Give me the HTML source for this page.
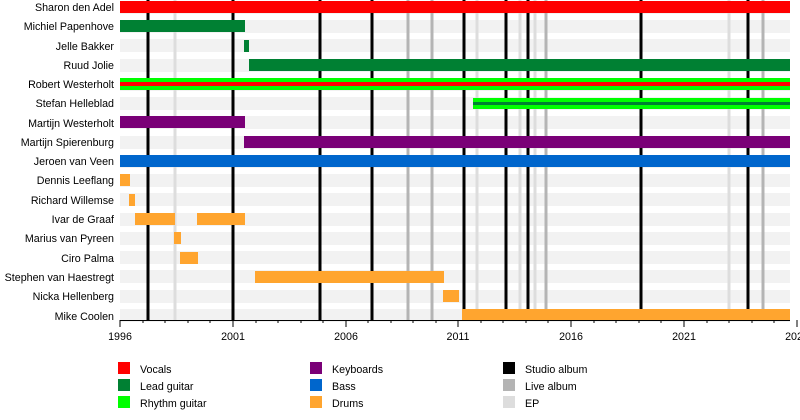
<!DOCTYPE html>
<html><head><meta charset="utf-8"><style>body{margin:0;background:#fff}svg{display:block}text{font-family:"Liberation Sans",sans-serif;font-size:10.7px;fill:#000}</style></head><body>
<svg width="800" height="420" xmlns="http://www.w3.org/2000/svg">
<g fill="#f2f2f2">
<rect x="120" y="1" width="670" height="13"/><rect x="120" y="20" width="670" height="13"/><rect x="120" y="39" width="670" height="13"/><rect x="120" y="59" width="670" height="13"/><rect x="120" y="78" width="670" height="13"/><rect x="120" y="97" width="670" height="13"/><rect x="120" y="116" width="670" height="13"/><rect x="120" y="136" width="670" height="13"/><rect x="120" y="155" width="670" height="13"/><rect x="120" y="174" width="670" height="13"/><rect x="120" y="193" width="670" height="13"/><rect x="120" y="213" width="670" height="13"/><rect x="120" y="232" width="670" height="13"/><rect x="120" y="251" width="670" height="13"/><rect x="120" y="270" width="670" height="13"/><rect x="120" y="290" width="670" height="13"/><rect x="120" y="309" width="670" height="13"/>
</g>
<g stroke="#dddddd" stroke-width="3"><line x1="175" y1="0" x2="175" y2="320"/><line x1="477" y1="0" x2="477" y2="320"/><line x1="520" y1="0" x2="520" y2="320"/><line x1="535" y1="0" x2="535" y2="320"/><line x1="729" y1="0" x2="729" y2="320"/></g>
<g stroke="#b4b4b4" stroke-width="3"><line x1="408" y1="0" x2="408" y2="320"/><line x1="432" y1="0" x2="432" y2="320"/><line x1="546" y1="0" x2="546" y2="320"/><line x1="763" y1="0" x2="763" y2="320"/></g>
<g stroke="#000" stroke-width="3"><line x1="148" y1="0" x2="148" y2="320"/><line x1="233" y1="0" x2="233" y2="320"/><line x1="320" y1="0" x2="320" y2="320"/><line x1="372" y1="0" x2="372" y2="320"/><line x1="464" y1="0" x2="464" y2="320"/><line x1="506" y1="0" x2="506" y2="320"/><line x1="528" y1="0" x2="528" y2="320"/><line x1="641" y1="0" x2="641" y2="320"/><line x1="748" y1="0" x2="748" y2="320"/></g>
<rect x="120" y="1" width="670" height="12" fill="#ff0000"/>
<rect x="120" y="20" width="125" height="12" fill="#008033"/>
<rect x="244" y="40" width="5" height="12" fill="#008033"/>
<rect x="249" y="59" width="541" height="12" fill="#008033"/>
<rect x="120" y="78" width="670" height="12" fill="#00ff00"/><rect x="120" y="82" width="670" height="4" fill="#ff0000"/>
<rect x="473" y="98" width="317" height="11" fill="#00ff00"/><rect x="473" y="102" width="317" height="3" fill="#008033"/>
<rect x="120" y="116" width="125" height="12" fill="#7a0077"/>
<rect x="244" y="136" width="546" height="12" fill="#7a0077"/>
<rect x="120" y="155" width="670" height="12" fill="#0066cc"/>
<g fill="#ffa52f"><rect x="120" y="174" width="10" height="12"/><rect x="129" y="194" width="6" height="12"/><rect x="135" y="213" width="40" height="12"/><rect x="197" y="213" width="48" height="12"/><rect x="174" y="232" width="7" height="12"/><rect x="180" y="252" width="18" height="12"/><rect x="255" y="271" width="189" height="12"/><rect x="443" y="290" width="16" height="12"/><rect x="462" y="309" width="328" height="12"/></g>
<g text-anchor="end"><text x="114" y="11">Sharon den Adel</text><text x="114" y="30">Michiel Papenhove</text><text x="114" y="50">Jelle Bakker</text><text x="114" y="69">Ruud Jolie</text><text x="114" y="88">Robert Westerholt</text><text x="114" y="107">Stefan Helleblad</text><text x="114" y="127">Martijn Westerholt</text><text x="114" y="146">Martijn Spierenburg</text><text x="114" y="165">Jeroen van Veen</text><text x="114" y="184">Dennis Leeflang</text><text x="114" y="204">Richard Willemse</text><text x="114" y="223">Ivar de Graaf</text><text x="114" y="242">Marius van Pyreen</text><text x="114" y="262">Ciro Palma</text><text x="114" y="281">Stephen van Haestregt</text><text x="114" y="300">Nicka Hellenberg</text><text x="114" y="320">Mike Coolen</text></g>
<line x1="120" y1="320.5" x2="790" y2="320.5" stroke="#000"/>
<g stroke="#000"><path d="M120 320v7M233 320v7M346 320v7M458 320v7M571 320v7M684 320v7M797 320v7"/><path d="M143 320v3M165 320v3M188 320v3M210 320v3M256 320v3M278 320v3M301 320v3M323 320v3M368 320v3M391 320v3M413 320v3M436 320v3M481 320v3M503 320v3M526 320v3M548 320v3M594 320v3M616 320v3M639 320v3M661 320v3M707 320v3M729 320v3M752 320v3M774 320v3"/></g>
<g text-anchor="middle"><text x="120" y="340">1996</text><text x="233" y="340">2001</text><text x="346" y="340">2006</text><text x="458" y="340">2011</text><text x="571" y="340">2016</text><text x="684" y="340">2021</text><text x="797" y="340">2026</text></g>
<rect x="118" y="362" width="12" height="12" fill="#ff0000"/><text x="140" y="373">Vocals</text>
<rect x="118" y="379" width="12" height="12" fill="#008033"/><text x="140" y="390">Lead guitar</text>
<rect x="118" y="396" width="12" height="12" fill="#00ff00"/><text x="140" y="407">Rhythm guitar</text>
<rect x="310" y="362" width="12" height="12" fill="#7a0077"/><text x="332" y="373">Keyboards</text>
<rect x="310" y="379" width="12" height="12" fill="#0066cc"/><text x="332" y="390">Bass</text>
<rect x="310" y="396" width="12" height="12" fill="#ffa52f"/><text x="332" y="407">Drums</text>
<rect x="503" y="362" width="12" height="12" fill="#000"/><text x="525" y="373">Studio album</text>
<rect x="503" y="379" width="12" height="12" fill="#b4b4b4"/><text x="525" y="390">Live album</text>
<rect x="503" y="396" width="12" height="12" fill="#dddddd"/><text x="525" y="407">EP</text>
</svg>
</body></html>
